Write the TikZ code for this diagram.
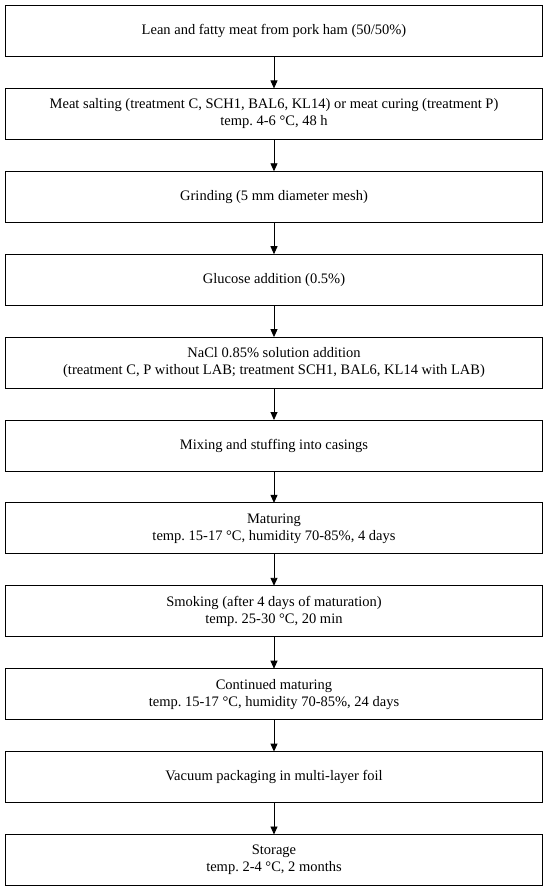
\documentclass[tikz,border=0pt]{standalone}
\usepackage{fontspec}
\setmainfont{Liberation Serif}
\usepackage{tikz}
\usetikzlibrary{arrows.meta}
\usetikzlibrary{positioning}
\tikzstyle{stepbox}=[draw,line width=.9pt,minimum width=537pt,minimum height=51pt,
  inner sep=0pt,outer sep=0pt,align=center,font=\fontsize{14.5}{17}\selectfont]
\tikzstyle{flow}=[line width=.9pt,-{Triangle[length=8pt,width=7pt]}]
\begin{document}
\begin{tikzpicture}[node distance=31.9pt]
	\useasboundingbox (0,0) rectangle (550pt,-893pt);
	\node[stepbox,anchor=north west] (s1) at (5.5pt,-5.5pt) {Lean and fatty meat from pork ham (50/50\%)};
	\node[stepbox,below=of s1] (s2) {Meat salting (treatment C, SCH1, BAL6, KL14) or meat curing (treatment P)\\ temp.\ 4-6 °C, 48 h};
	\node[stepbox,below=of s2] (s3) {Grinding (5 mm diameter mesh)};
	\node[stepbox,below=of s3] (s4) {Glucose addition (0.5\%)};
	\node[stepbox,below=of s4] (s5) {NaCl 0.85\% solution addition\\ (treatment C, P without LAB; treatment SCH1, BAL6, KL14 with LAB)};
	\node[stepbox,below=of s5] (s6) {Mixing and stuffing into casings};
	\node[stepbox,below=of s6] (s7) {Maturing\\ temp.\ 15-17 °C, humidity 70-85\%, 4 days};
	\node[stepbox,below=of s7] (s8) {Smoking (after 4 days of maturation)\\ temp.\ 25-30 °C, 20 min};
	\node[stepbox,below=of s8] (s9) {Continued maturing\\ temp.\ 15-17 °C, humidity 70-85\%, 24 days};
	\node[stepbox,below=of s9] (s10) {Vacuum packaging in multi-layer foil};
	\node[stepbox,below=of s10] (s11) {Storage\\ temp.\ 2-4 °C, 2 months};
	\foreach \i [evaluate=\i as \j using int(\i+1)] in {1,...,10}
	  \draw[flow] (s\i) -- (s\j);
\end{tikzpicture}
\end{document}
